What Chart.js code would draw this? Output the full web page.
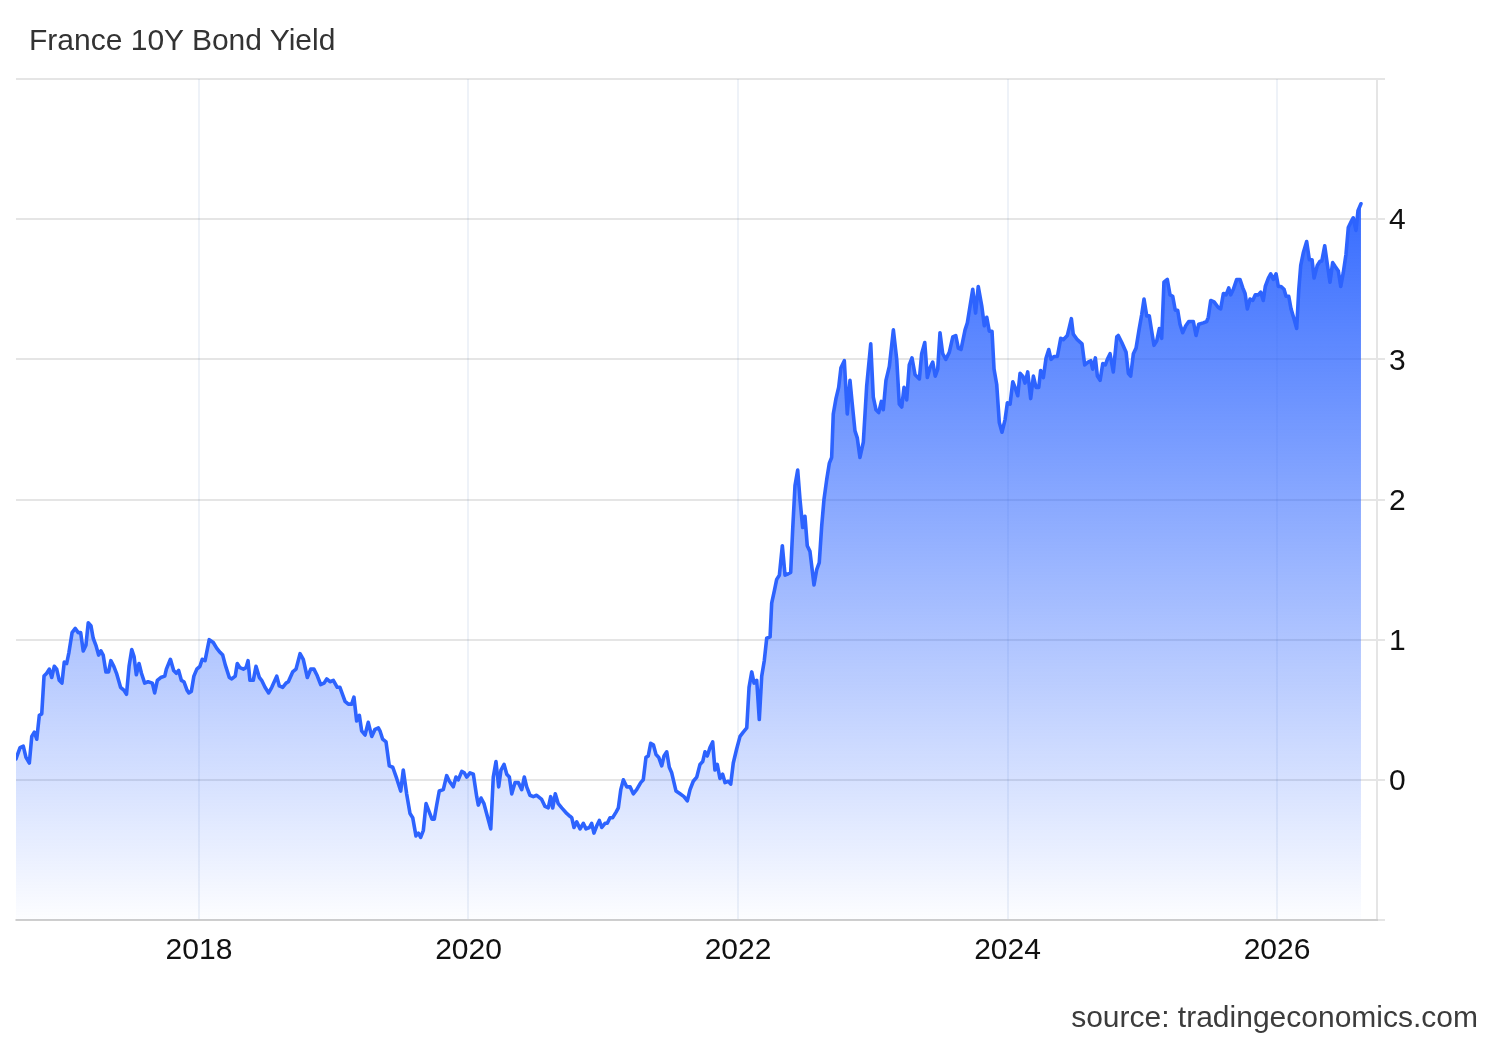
<!DOCTYPE html>
<html>
<head>
<meta charset="utf-8">
<title>France 10Y Bond Yield</title>
<script src="https://cdn.jsdelivr.net/npm/chart.js@4.4.1/dist/chart.umd.min.js"></script>
<style>
  html, body { margin: 0; padding: 0; background: #fff; }
  #wrap { position: relative; width: 1500px; height: 1040px; overflow: hidden; }
  #chart { position: absolute; left: 0; top: 0; }
  .label { position: absolute; font-family: "Liberation Sans", Arial, sans-serif; font-size: 30px; line-height: 30px; white-space: nowrap; }
  #title { left: 29px; top: 25px; color: #333; }
  #source { right: 22px; top: 1002px; color: #3c3c3c; }
</style>
</head>
<body>
<div id="wrap">
  <canvas id="chart" width="1500" height="1040"></canvas>
  <div id="title" class="label">France 10Y Bond Yield</div>
  <div id="source" class="label">source: tradingeconomics.com</div>
</div>
<script>
// France 10Y yield (decimal years)
const dates = [
    2016.642, 2016.672, 2016.696, 2016.716, 2016.741, 2016.759, 2016.778, 2016.796, 2016.815, 2016.833, 2016.850, 2016.870, 2016.889, 2016.907, 2016.926, 2016.944, 2016.963, 2016.983,
    2017.000, 2017.018, 2017.035, 2017.058, 2017.082, 2017.104, 2017.122, 2017.141, 2017.161, 2017.178, 2017.198, 2017.215, 2017.235, 2017.255, 2017.272, 2017.289, 2017.309, 2017.329, 2017.346, 2017.368, 2017.388, 2017.418, 2017.442, 2017.462, 2017.481, 2017.501, 2017.518, 2017.535, 2017.555, 2017.573, 2017.597, 2017.622, 2017.654, 2017.671, 2017.691, 2017.716, 2017.746, 2017.758, 2017.788, 2017.812, 2017.832, 2017.849, 2017.869, 2017.888, 2017.911, 2017.925, 2017.943, 2017.962, 2017.984,
    2018.007, 2018.024, 2018.045, 2018.076, 2018.106, 2018.131, 2018.156, 2018.176, 2018.195, 2018.225, 2018.243, 2018.269, 2018.284, 2018.304, 2018.329, 2018.349, 2018.364, 2018.378, 2018.403, 2018.423, 2018.448, 2018.465, 2018.490, 2018.517, 2018.540, 2018.577, 2018.596, 2018.621, 2018.646, 2018.663, 2018.695, 2018.720, 2018.750, 2018.774, 2018.804, 2018.829, 2018.853, 2018.874, 2018.903, 2018.928, 2018.948, 2018.972, 2018.997,
    2019.026, 2019.046, 2019.084, 2019.108, 2019.133, 2019.150, 2019.170, 2019.190, 2019.207, 2019.232, 2019.256, 2019.282, 2019.306, 2019.331, 2019.343, 2019.363, 2019.388, 2019.412, 2019.438, 2019.467, 2019.497, 2019.516, 2019.541, 2019.566, 2019.586, 2019.610, 2019.628, 2019.645, 2019.665, 2019.685, 2019.709, 2019.729, 2019.746, 2019.764, 2019.783, 2019.813, 2019.838, 2019.858, 2019.887, 2019.907, 2019.924, 2019.950, 2019.969, 2019.987,
    2020.011, 2020.036, 2020.061, 2020.073, 2020.093, 2020.115, 2020.140, 2020.165, 2020.184, 2020.204, 2020.224, 2020.241, 2020.264, 2020.284, 2020.303, 2020.321, 2020.345, 2020.370, 2020.395, 2020.414, 2020.432, 2020.456, 2020.481, 2020.506, 2020.543, 2020.568, 2020.592, 2020.610, 2020.625, 2020.644, 2020.666, 2020.692, 2020.729, 2020.753, 2020.766, 2020.783, 2020.803, 2020.828, 2020.852, 2020.872, 2020.897, 2020.914, 2020.931, 2020.951, 2020.971, 2020.989,
    2021.013, 2021.030, 2021.050, 2021.070, 2021.095, 2021.112, 2021.130, 2021.149, 2021.174, 2021.199, 2021.223, 2021.248, 2021.278, 2021.297, 2021.317, 2021.334, 2021.352, 2021.372, 2021.392, 2021.412, 2021.434, 2021.451, 2021.471, 2021.490, 2021.508, 2021.540, 2021.570, 2021.599, 2021.624, 2021.644, 2021.668, 2021.694, 2021.718, 2021.738, 2021.755, 2021.772, 2021.792, 2021.812, 2021.829, 2021.846, 2021.866, 2021.886, 2021.904, 2021.928, 2021.946, 2021.965, 2021.990,
    2022.015, 2022.039, 2022.065, 2022.082, 2022.102, 2022.119, 2022.139, 2022.158, 2022.176, 2022.195, 2022.213, 2022.238, 2022.250, 2022.270, 2022.287, 2022.307, 2022.329, 2022.349, 2022.373, 2022.391, 2022.406, 2022.423, 2022.443, 2022.460, 2022.480, 2022.497, 2022.514, 2022.534, 2022.564, 2022.584, 2022.603, 2022.621, 2022.638, 2022.658, 2022.678, 2022.695, 2022.707, 2022.727, 2022.747, 2022.764, 2022.789, 2022.811, 2022.831, 2022.848, 2022.868, 2022.885, 2022.905, 2022.930, 2022.955, 2022.985,
    2023.004, 2023.024, 2023.044, 2023.064, 2023.078, 2023.098, 2023.123, 2023.153, 2023.178, 2023.197, 2023.215, 2023.232, 2023.252, 2023.271, 2023.291, 2023.314, 2023.346, 2023.363, 2023.386, 2023.405, 2023.425, 2023.445, 2023.464, 2023.482, 2023.499, 2023.519, 2023.542, 2023.568, 2023.594, 2023.616, 2023.635, 2023.655, 2023.685, 2023.702, 2023.722, 2023.742, 2023.763, 2023.783, 2023.809, 2023.828, 2023.846, 2023.865, 2023.885, 2023.900, 2023.920, 2023.939, 2023.959, 2023.982, 2023.999,
    2024.019, 2024.039, 2024.056, 2024.076, 2024.093, 2024.113, 2024.130, 2024.150, 2024.172, 2024.192, 2024.212, 2024.232, 2024.246, 2024.266, 2024.286, 2024.306, 2024.323, 2024.345, 2024.370, 2024.395, 2024.414, 2024.444, 2024.459, 2024.474, 2024.488, 2024.518, 2024.553, 2024.573, 2024.598, 2024.618, 2024.632, 2024.652, 2024.667, 2024.687, 2024.707, 2024.726, 2024.741, 2024.761, 2024.785, 2024.811, 2024.822, 2024.848, 2024.880, 2024.897, 2024.914, 2024.934, 2024.954, 2024.976, 2024.996,
    2025.013, 2025.033, 2025.052, 2025.070, 2025.087, 2025.107, 2025.127, 2025.144, 2025.161, 2025.186, 2025.206, 2025.226, 2025.245, 2025.263, 2025.280, 2025.300, 2025.323, 2025.345, 2025.379, 2025.399, 2025.419, 2025.453, 2025.478, 2025.490, 2025.508, 2025.533, 2025.564, 2025.582, 2025.602, 2025.622, 2025.642, 2025.656, 2025.676, 2025.701, 2025.725, 2025.746, 2025.763, 2025.780, 2025.800, 2025.820, 2025.839, 2025.861, 2025.879, 2025.898, 2025.913, 2025.936, 2025.953, 2025.973, 2025.993,
    2026.010, 2026.030, 2026.052, 2026.067, 2026.087, 2026.104, 2026.126, 2026.146, 2026.161, 2026.176, 2026.195, 2026.220, 2026.240, 2026.260, 2026.275, 2026.299, 2026.319, 2026.332, 2026.354, 2026.373, 2026.393, 2026.413, 2026.433, 2026.455, 2026.473, 2026.492, 2026.512, 2026.529, 2026.554, 2026.566, 2026.586, 2026.601, 2026.623
];

const yields = [
    0.15, 0.23, 0.24, 0.16, 0.12, 0.31, 0.34, 0.29, 0.46, 0.47, 0.74, 0.76, 0.79, 0.73, 0.81, 0.79, 0.71, 0.69,
    0.84, 0.83, 0.91, 1.05, 1.08, 1.05, 1.05, 0.92, 0.96, 1.12, 1.10, 1.01, 0.96, 0.89, 0.92, 0.89, 0.77, 0.77, 0.85, 0.81, 0.76, 0.66, 0.64, 0.61, 0.81, 0.93, 0.88, 0.75, 0.83, 0.76, 0.69, 0.70, 0.69, 0.62, 0.71, 0.73, 0.74, 0.79, 0.86, 0.78, 0.76, 0.78, 0.71, 0.70, 0.64, 0.62, 0.63, 0.74, 0.79,
    0.81, 0.86, 0.85, 1.00, 0.98, 0.94, 0.91, 0.89, 0.82, 0.73, 0.72, 0.74, 0.83, 0.80, 0.79, 0.80, 0.85, 0.71, 0.71, 0.81, 0.73, 0.71, 0.66, 0.62, 0.66, 0.74, 0.67, 0.66, 0.69, 0.70, 0.77, 0.79, 0.90, 0.86, 0.73, 0.79, 0.79, 0.75, 0.68, 0.69, 0.72, 0.70, 0.71,
    0.66, 0.66, 0.56, 0.54, 0.54, 0.59, 0.42, 0.46, 0.35, 0.32, 0.41, 0.31, 0.36, 0.37, 0.35, 0.29, 0.27, 0.10, 0.09, 0.01, -0.08, 0.07, -0.10, -0.24, -0.27, -0.40, -0.38, -0.41, -0.36, -0.17, -0.23, -0.28, -0.28, -0.18, -0.08, -0.07, 0.03, -0.01, -0.05, 0.02, 0.00, 0.06, 0.05, 0.02,
    0.05, 0.04, -0.12, -0.18, -0.13, -0.17, -0.26, -0.35, 0.02, 0.13, -0.05, 0.07, 0.11, 0.04, 0.02, -0.10, -0.02, -0.02, -0.07, 0.02, -0.05, -0.11, -0.12, -0.11, -0.14, -0.19, -0.20, -0.12, -0.20, -0.10, -0.17, -0.20, -0.24, -0.26, -0.27, -0.34, -0.30, -0.35, -0.31, -0.35, -0.34, -0.31, -0.38, -0.33, -0.29, -0.34,
    -0.31, -0.31, -0.27, -0.27, -0.23, -0.20, -0.07, 0.00, -0.05, -0.05, -0.10, -0.07, -0.02, 0.00, 0.16, 0.17, 0.26, 0.25, 0.18, 0.16, 0.10, 0.17, 0.20, 0.09, 0.05, -0.08, -0.10, -0.12, -0.15, -0.07, -0.01, 0.02, 0.11, 0.13, 0.20, 0.17, 0.23, 0.27, 0.07, 0.11, 0.01, 0.04, -0.02, -0.01, -0.03, 0.12, 0.22,
    0.31, 0.34, 0.37, 0.66, 0.77, 0.69, 0.71, 0.43, 0.74, 0.85, 1.01, 1.02, 1.26, 1.35, 1.43, 1.46, 1.67, 1.46, 1.47, 1.48, 1.79, 2.10, 2.21, 2.00, 1.80, 1.88, 1.67, 1.63, 1.39, 1.50, 1.55, 1.81, 2.00, 2.14, 2.26, 2.30, 2.61, 2.72, 2.80, 2.94, 2.99, 2.61, 2.85, 2.68, 2.49, 2.44, 2.30, 2.41, 2.81, 3.11,
    2.73, 2.64, 2.62, 2.70, 2.64, 2.85, 2.95, 3.21, 3.00, 2.68, 2.66, 2.80, 2.71, 2.96, 3.01, 2.89, 2.86, 3.04, 3.12, 2.87, 2.94, 2.98, 2.88, 2.93, 3.19, 3.04, 3.00, 3.05, 3.16, 3.17, 3.08, 3.07, 3.21, 3.26, 3.38, 3.50, 3.33, 3.52, 3.38, 3.24, 3.30, 3.20, 3.20, 2.93, 2.82, 2.55, 2.48, 2.57, 2.69,
    2.68, 2.84, 2.80, 2.74, 2.90, 2.88, 2.83, 2.91, 2.72, 2.88, 2.80, 2.80, 2.92, 2.87, 3.01, 3.07, 3.00, 3.02, 3.02, 3.15, 3.14, 3.17, 3.23, 3.29, 3.18, 3.14, 3.11, 2.96, 2.98, 2.99, 2.93, 3.01, 2.88, 2.85, 2.97, 2.96, 3.00, 3.04, 2.91, 3.16, 3.17, 3.12, 3.05, 2.90, 2.88, 3.04, 3.08, 3.21, 3.32,
    3.43, 3.31, 3.31, 3.20, 3.10, 3.13, 3.22, 3.15, 3.55, 3.57, 3.46, 3.45, 3.35, 3.35, 3.25, 3.19, 3.24, 3.27, 3.27, 3.17, 3.25, 3.26, 3.27, 3.30, 3.42, 3.41, 3.37, 3.36, 3.47, 3.46, 3.51, 3.46, 3.50, 3.57, 3.57, 3.51, 3.47, 3.36, 3.43, 3.42, 3.46, 3.46, 3.48, 3.42, 3.52, 3.58, 3.61, 3.57, 3.61,
    3.52, 3.52, 3.50, 3.45, 3.45, 3.36, 3.29, 3.22, 3.49, 3.67, 3.76, 3.84, 3.71, 3.71, 3.58, 3.67, 3.70, 3.70, 3.81, 3.68, 3.55, 3.69, 3.66, 3.63, 3.52, 3.62, 3.75, 3.94, 3.99, 4.01, 3.92, 4.06, 4.11
];

const xTickYears = [2018, 2020, 2022, 2024, 2026];
const xTickLabels = ['2018', '2020', '2022', '2024', '2026'];
const yTickValues = [-1, 0, 1, 2, 3, 4, 5];
const yTickLabels = ['', '0', '1', '2', '3', '4', ''];

const xMin = 2016.642;
const xMax = 2026.742;

(function() {
    const points = dates.map((d, i) => ({ x: d, y: yields[i] }));
    const tickFont = { family: '"Liberation Sans", Arial, sans-serif', size: 30 };

    const fillGradient = (context) => {
        const area = context.chart.chartArea;
        if (!area) return 'rgba(41, 98, 255, 0.4)';
        const g = context.chart.ctx.createLinearGradient(0, area.top, 0, area.bottom);
        g.addColorStop(0, 'rgba(41, 98, 255, 1)');
        g.addColorStop(0.09, 'rgba(41, 98, 255, 1)');
        g.addColorStop(1, 'rgba(41, 98, 255, 0.01)');
        return g;
    };

    const ctx = document.getElementById('chart').getContext('2d');
    new Chart(ctx, {
        type: 'line',
        data: {
            datasets: [{
                label: 'France 10Y',
                data: points,
                borderColor: '#2d63fe',
                borderWidth: 3.6,
                borderJoinStyle: 'round',
                borderCapStyle: 'round',
                backgroundColor: fillGradient,
                fill: 'start',
                tension: 0,
                pointRadius: 0
            }]
        },
        options: {
            responsive: false,
            animation: false,
            devicePixelRatio: 1,
            layout: { padding: { left: 16, top: 79, right: 0, bottom: 0 } },
            plugins: {
                legend: { display: false },
                tooltip: { enabled: false }
            },
            scales: {
                x: {
                    type: 'linear',
                    min: xMin,
                    max: xMax,
                    z: 1,
                    afterFit: (scale) => { scale.height = 120; },
                    afterBuildTicks: (scale) => { scale.ticks = xTickYears.map(v => ({ value: v })); },
                    ticks: {
                        color: '#111',
                        font: tickFont,
                        padding: 13,
                        maxRotation: 0,
                        callback: (value) => {
                            const i = xTickYears.indexOf(value);
                            return i >= 0 ? xTickLabels[i] : '';
                        }
                    },
                    grid: {
                        color: 'rgba(40, 90, 160, 0.08)',
                        lineWidth: 2,
                        drawTicks: false
                    },
                    border: { display: true, color: 'rgba(0, 0, 0, 0.1)', width: 2 }
                },
                y: {
                    type: 'linear',
                    position: 'right',
                    min: -1,
                    max: 5,
                    z: 1,
                    afterFit: (scale) => { scale.width = 123; },
                    afterBuildTicks: (scale) => { scale.ticks = yTickValues.map(v => ({ value: v })); },
                    ticks: {
                        color: '#111',
                        font: tickFont,
                        padding: 4,
                        labelOffset: 2,
                        callback: (value) => {
                            const i = yTickValues.indexOf(value);
                            return i >= 0 ? yTickLabels[i] : '';
                        }
                    },
                    grid: {
                        color: 'rgba(0, 0, 0, 0.1)',
                        lineWidth: 2,
                        drawTicks: true,
                        tickLength: 8
                    },
                    border: { display: true, color: 'rgba(0, 0, 0, 0.1)', width: 2 }
                }
            }
        }
    });
})();
</script>
</body>
</html>
